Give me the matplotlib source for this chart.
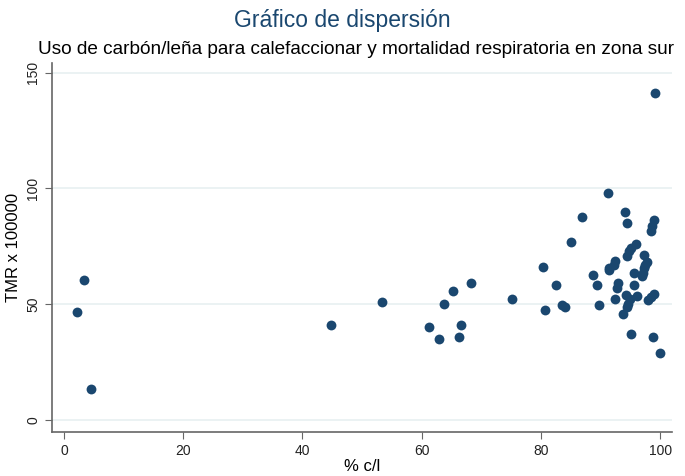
import matplotlib.pyplot as plt

plt.rcParams['font.family'] = ['Liberation Sans', 'DejaVu Sans']

# % of homes heating with carbon/wood (x) vs respiratory mortality rate (y)
pct_cl = [2.2, 3.4, 4.5, 44.8, 53.4, 61.3, 62.9, 63.7, 65.3, 66.6, 66.3, 68.2,
          75.2, 80.3, 80.7, 82.6, 83.6, 84.0, 85.1, 86.9, 88.7, 89.4, 89.7,
          91.2, 91.4, 91.5, 92.2, 92.5, 92.5, 92.7, 93.0, 93.8, 94.1, 94.3,
          94.4, 94.5, 94.5, 94.7, 94.8, 95.0, 95.1, 95.2, 95.6, 95.7, 95.9,
          96.1, 97.0, 97.1, 97.3, 97.3, 97.5, 97.8, 98.0, 98.4, 98.4, 98.6,
          98.8, 98.9, 98.9, 99.2, 100.0]
tmr = [46.7, 60.7, 13.5, 41.0, 51.1, 40.0, 35.2, 50.2, 55.8, 41.2, 35.7, 59.4,
       52.5, 66.0, 47.5, 58.5, 49.8, 48.9, 76.7, 87.6, 62.6, 58.5, 49.9,
       97.9, 64.9, 65.5, 67.0, 68.7, 52.4, 57.2, 59.0, 45.9, 89.8, 53.8,
       48.8, 84.9, 71.0, 50.2, 72.8, 52.1, 37.1, 74.2, 63.3, 58.5, 76.1,
       53.6, 62.3, 63.3, 65.5, 71.3, 66.9, 68.4, 51.7, 81.5, 53.1, 83.7,
       35.7, 86.3, 54.6, 141.0, 29.0]

navy = '#1a476f'

fig = plt.figure(figsize=(6.85, 4.76), dpi=100)
ax = fig.add_axes([0.076, 0.092, 0.905, 0.775])

ax.scatter(pct_cl, tmr, s=50, color=navy, zorder=3, linewidths=0)

ax.set_xlim(-2, 102)
ax.set_ylim(-5.2, 154)
ax.set_xticks([0, 20, 40, 60, 80, 100])
ax.set_yticks([0, 50, 100, 150])
ax.grid(axis='y', color='#e8f0f1', linewidth=1.2, zorder=0)
ax.grid(axis='x', visible=False)

for side in ['top', 'right']:
    ax.spines[side].set_visible(False)
for side in ['left', 'bottom']:
    ax.spines[side].set_color('#666666')
    ax.spines[side].set_linewidth(1.2)

ax.tick_params(axis='both', direction='out', length=5, color='#666666',
               labelsize=10, labelcolor='#222222')
for lbl in ax.get_yticklabels():
    lbl.set_rotation(90)
    lbl.set_va('center')

ax.set_xlabel('% c/l', fontsize=12, labelpad=1)
ax.set_ylabel('TMR x 100000', fontsize=12, labelpad=4)

fig.text(0.5, 0.957, 'Gráfico de dispersión', ha='center', va='center',
         fontsize=16.5, color=navy)
fig.text(0.52, 0.897, 'Uso de carbón/leña para calefaccionar y mortalidad respiratoria en zona sur',
         ha='center', va='center', fontsize=13.7, color='black')

fig.savefig('out.png', dpi=100)
